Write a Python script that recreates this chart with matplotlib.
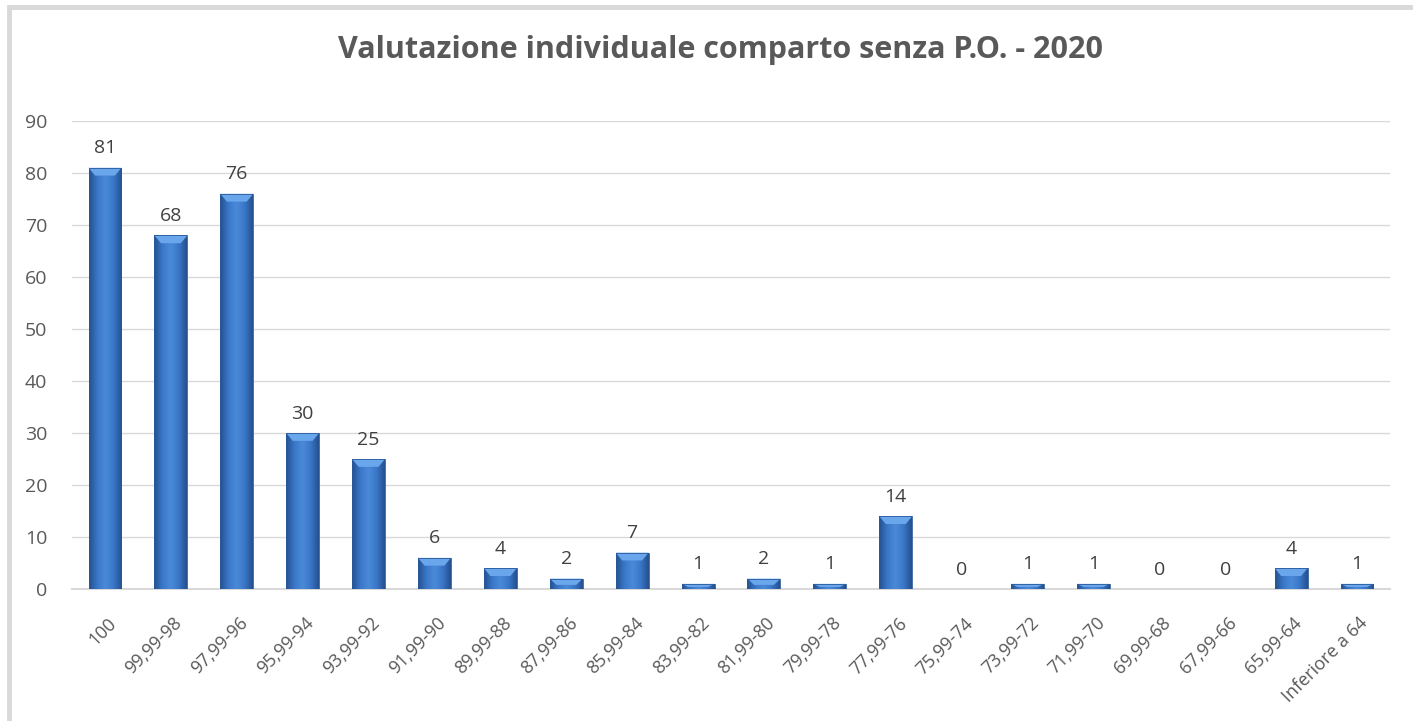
import numpy as np
import matplotlib.pyplot as plt
from matplotlib.patches import Rectangle, Polygon
from matplotlib.colors import LinearSegmentedColormap
from matplotlib.transforms import ScaledTranslation

# Data
categories = ["100", "99,99-98", "97,99-96", "95,99-94", "93,99-92", "91,99-90",
              "89,99-88", "87,99-86", "85,99-84", "83,99-82", "81,99-80", "79,99-78",
              "77,99-76", "75,99-74", "73,99-72", "71,99-70", "69,99-68", "67,99-66",
              "65,99-64", "Inferiore a 64"]
counts = [81, 68, 76, 30, 25, 6, 4, 2, 7, 1, 2, 1, 14, 0, 1, 1, 0, 0, 4, 1]
title = "Valutazione individuale comparto senza P.O. - 2020"

plt.rcParams['font.family'] = ['Open Sans', 'DejaVu Sans']
text_col = "#595959"

fig = plt.figure(figsize=(14.13, 7.21), dpi=100)
ax = fig.add_axes([0.051, 0.183, 0.9327, 0.6492])

# outer chart frame (only left and top visible)
fig.patches.append(Rectangle((9 / 1413, -0.1), 1.2, 1.1 - 6.5 / 721, transform=fig.transFigure,
                             fill=False, edgecolor="#d9d9d9", linewidth=3.5, zorder=0))

x = np.arange(len(categories))
bars = ax.bar(x, counts, width=0.5, color="none", edgecolor="none", zorder=3)

# horizontal gradient to mimic the bevelled Excel bars
grad_cmap = LinearSegmentedColormap.from_list(
    "bev", ["#24518f", "#3a77c8", "#4a8ad8", "#3a77c8", "#24518f"])
grad = np.linspace(0, 1, 64).reshape(1, -1)
for rect in bars:
    h = rect.get_height()
    if h <= 0:
        continue
    x0 = rect.get_x()
    w = rect.get_width()
    im = ax.imshow(grad, cmap=grad_cmap, aspect="auto", extent=(x0, x0 + w, 0, h),
                   zorder=3, interpolation="bicubic")
    im.set_clip_path(rect)
    # lighter bevel at the top
    bev = min(1.5, h * 0.6)
    top = Polygon([(x0, h), (x0 + w, h), (x0 + w * 0.8, h - bev), (x0 + w * 0.2, h - bev)],
                  closed=True, facecolor="#6aa6ec", edgecolor="none", zorder=4)
    ax.add_patch(top)
    ax.add_patch(Rectangle((x0, 0), w, h, fill=False, edgecolor="#2a5a9a",
                           linewidth=0.6, zorder=5))

for xi, v in zip(x, counts):
    ax.text(xi, v + 2.0, str(v), ha="center", va="bottom", fontsize=14, color="#404040")

ax.set_xlim(-0.5, len(categories) - 0.5)
ax.set_ylim(0, 90)
ax.set_yticks(np.arange(0, 91, 10))
ax.yaxis.grid(True, color="#d9d9d9", linewidth=1)
ax.set_axisbelow(True)
for s in ["top", "right", "left"]:
    ax.spines[s].set_visible(False)
ax.spines["bottom"].set_color("#d9d9d9")
ax.spines["bottom"].set_linewidth(1.5)
ax.tick_params(axis="y", length=0, colors=text_col, labelsize=14, pad=18)
ax.set_xticks(x)
ax.set_xticklabels(categories, rotation=45, ha="right", rotation_mode="anchor")
ax.tick_params(axis="x", length=0, colors=text_col, labelsize=13, pad=18)
shift = ScaledTranslation(2 / 100, 0, fig.dpi_scale_trans)
for lbl in ax.get_xticklabels():
    lbl.set_transform(lbl.get_transform() + shift)

fig.text(0.51, 0.931, title, ha="center", va="center", fontsize=22, fontweight="bold",
         color=text_col)

fig.savefig("out.png", dpi=100, facecolor="white")
